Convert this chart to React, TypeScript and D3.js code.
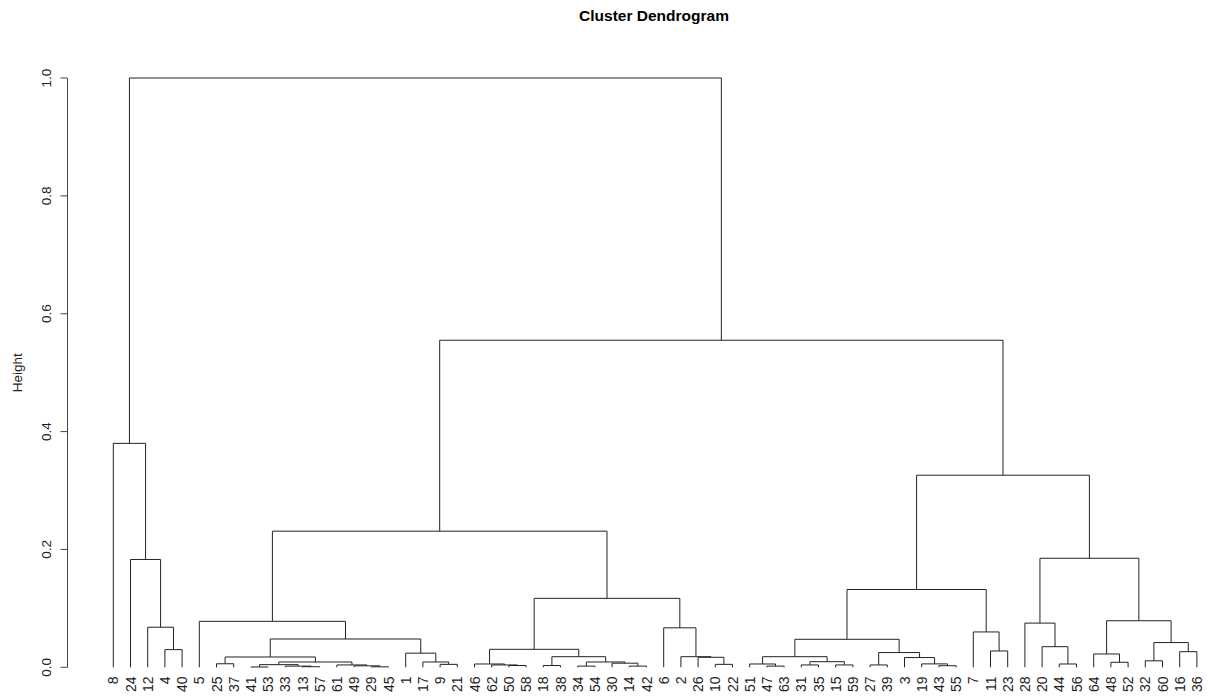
import React from "react";
import * as d3 from "d3";

// Leaf order along the x axis (observation numbers)
const leafOrder: number[] = [
  8, 24, 12, 4, 40, 5, 25, 37, 41, 53, 33, 13, 57, 61, 49, 29, 45, 1, 17, 9, 21,
  46, 62, 50, 58, 18, 38, 34, 54, 30, 14, 42, 6, 2, 26, 10, 22, 51, 47, 63, 31,
  35, 15, 59, 27, 39, 3, 19, 43, 55, 7, 11, 23, 28, 20, 44, 56, 64, 48, 52, 32,
  60, 16, 36,
];

// hclust-style merge matrix: negative = observation, positive = earlier merge row (1-based)
const merges: [number, number][] = [
  [-41, -53], [-13, -57], [-33, 2], [1, 3], [-29, -45], [-49, 5], [-61, 6], [4, 7],
  [-25, -37], [9, 8], [-9, -21], [-17, 11], [-1, 12], [10, 13], [-5, 14],
  [-50, -58], [-62, 16], [-46, 17], [-18, -38], [-34, -54], [-14, -42], [-30, 21],
  [20, 22], [19, 23], [18, 24], [-10, -22], [-26, 26], [-2, 27], [-6, 28], [25, 29],
  [15, 30], [-47, -63], [-51, 32], [-31, -35], [-15, -59], [34, 35], [33, 36],
  [-27, -39], [-43, -55], [-19, 39], [-3, 40], [38, 41], [37, 42], [-11, -23],
  [-7, 44], [43, 45], [-44, -56], [-20, 47], [-28, 48], [-48, -52], [-64, 50],
  [-32, -60], [-16, -36], [52, 53], [51, 54], [49, 55], [46, 56], [31, 57],
  [-4, -40], [-12, 59], [-24, 60], [-8, 61], [62, 58],
];

const heights: number[] = [
  0.0005, 0.001, 0.002, 0.0045, 0.0008, 0.0025, 0.004, 0.009,
  0.006, 0.0175, 0.005, 0.009, 0.024, 0.048, 0.078,
  0.003, 0.004, 0.0056, 0.003, 0.002, 0.002, 0.007,
  0.009, 0.018, 0.0305, 0.005, 0.017, 0.018, 0.067, 0.117,
  0.231, 0.002, 0.0056, 0.004, 0.004, 0.0095, 0.018,
  0.004, 0.0027, 0.0058, 0.0165, 0.025, 0.0475, 0.0277,
  0.06, 0.132, 0.0056, 0.035, 0.075, 0.0085, 0.0226,
  0.011, 0.0265, 0.042, 0.079, 0.185, 0.326, 0.555,
  0.03, 0.068, 0.183, 0.38, 1.0,
];

const yTicks: number[] = [0, 0.2, 0.4, 0.6, 0.8, 1.0];

const title = "Cluster Dendrogram";
const yLabel = "Height";

export default function App() {
  const W = 1208;
  const H = 700;
  const x = d3.scaleLinear().domain([0, leafOrder.length - 1]).range([113.3, 1196.9]);
  const y = d3.scaleLinear().domain([0, 1]).range([667.3, 78]);

  const leafIndex = new Map<number, number>();
  leafOrder.forEach((obs, i) => leafIndex.set(obs, i));

  const nodes: { x: number; h: number }[] = [];
  const pos = (id: number) =>
    id < 0 ? { x: x(leafIndex.get(-id) as number), h: 0 } : nodes[id - 1];
  merges.forEach(([a, b], i) => {
    const pa = pos(a);
    const pb = pos(b);
    nodes.push({ x: (pa.x + pb.x) / 2, h: heights[i] });
  });

  const segs = merges.map(([a, b], i) => {
    const pa = pos(a);
    const pb = pos(b);
    const yh = y(heights[i]);
    const p = d3.path();
    p.moveTo(pa.x, y(pa.h));
    p.lineTo(pa.x, yh);
    p.lineTo(pb.x, yh);
    p.lineTo(pb.x, y(pb.h));
    return p.toString();
  });

  const font = "Liberation Sans, Arial, Helvetica, sans-serif";
  const fmt = d3.format(".1f");
  const axisX = 67.5;

  return (
    <svg
      width={W}
      height={H}
      style={{ position: "absolute", left: 0, top: 0, background: "#fff" }}
      fontFamily={font}
    >
      <rect x={0} y={0} width={W} height={H} fill="#fff" />
      <text x={654} y={21} textAnchor="middle" fontSize={15.5} fontWeight="bold" fill="#000">
        {title}
      </text>
      {/* y axis */}
      <line x1={axisX} x2={axisX} y1={y(0)} y2={y(1)} stroke="#444" strokeWidth={1} />
      {yTicks.map((t) => (
        <g key={t}>
          <line x1={axisX - 7} x2={axisX} y1={y(t)} y2={y(t)} stroke="#444" strokeWidth={1} />
          <text
            transform={`translate(${46},${y(t)}) rotate(-90)`}
            textAnchor="middle"
            dominantBaseline="central"
            fontSize={13.5}
            fill="#222"
          >
            {fmt(t)}
          </text>
        </g>
      ))}
      <text
        transform={`translate(17,${(y(0) + y(1)) / 2}) rotate(-90)`}
        textAnchor="middle"
        dominantBaseline="central"
        fontSize={13.5}
        fill="#222"
      >
        {yLabel}
      </text>
      {/* dendrogram */}
      <g fill="none" stroke="#222" strokeWidth={1}>
        {segs.map((d, i) => (
          <path key={i} d={d} />
        ))}
      </g>
      {/* leaf labels */}
      {leafOrder.map((obs, i) => (
        <text
          key={obs}
          transform={`translate(${x(i)},${676.5}) rotate(-90)`}
          textAnchor="end"
          dominantBaseline="central"
          fontSize={14}
          fill="#222"
        >
          {obs}
        </text>
      ))}
    </svg>
  );
}
